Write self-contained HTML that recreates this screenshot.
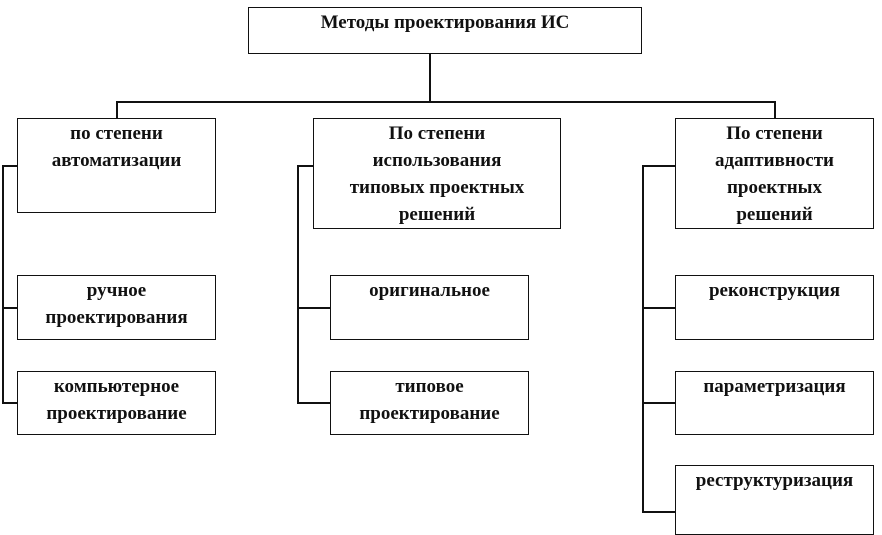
<!DOCTYPE html>
<html><head><meta charset="utf-8"><style>
body{margin:0;width:882px;height:529px;background:#fff;position:relative;overflow:hidden;font-family:"Liberation Serif",serif;font-weight:bold;font-size:19px;color:#111}
.b{position:absolute;border:1.5px solid #111;box-sizing:border-box;text-align:center;line-height:27px;padding-top:1px}
.l{position:absolute;background:#111}
</style></head><body>
<div class="b" style="left:248px;top:7px;width:394px;height:47px;line-height:28px">Методы проектирования ИС</div>
<div class="l" style="left:429px;top:53px;width:1.5px;height:50px"></div>
<div class="l" style="left:116px;top:101px;width:660px;height:1.5px"></div>
<div class="l" style="left:116px;top:101px;width:1.5px;height:18px"></div>
<div class="l" style="left:774px;top:101px;width:1.5px;height:18px"></div>

<div class="b" style="left:17px;top:118px;width:199px;height:95px">по степени<br>автоматизации</div>
<div class="b" style="left:313px;top:118px;width:248px;height:111px">По степени<br>использования<br>типовых проектных<br>решений</div>
<div class="b" style="left:675px;top:118px;width:199px;height:111px">По степени<br>адаптивности<br>проектных<br>решений</div>

<div class="l" style="left:2px;top:165px;width:15px;height:1.5px"></div>
<div class="l" style="left:2px;top:165px;width:1.5px;height:238px"></div>
<div class="l" style="left:2px;top:307px;width:15px;height:1.5px"></div>
<div class="l" style="left:2px;top:402px;width:15px;height:1.5px"></div>

<div class="l" style="left:297px;top:165px;width:16px;height:1.5px"></div>
<div class="l" style="left:297px;top:165px;width:1.5px;height:238px"></div>
<div class="l" style="left:297px;top:307px;width:33px;height:1.5px"></div>
<div class="l" style="left:297px;top:402px;width:33px;height:1.5px"></div>

<div class="l" style="left:642px;top:165px;width:33px;height:1.5px"></div>
<div class="l" style="left:642px;top:165px;width:1.5px;height:347px"></div>
<div class="l" style="left:642px;top:307px;width:33px;height:1.5px"></div>
<div class="l" style="left:642px;top:402px;width:33px;height:1.5px"></div>
<div class="l" style="left:642px;top:511px;width:33px;height:1.5px"></div>

<div class="b" style="left:17px;top:275px;width:199px;height:65px">ручное<br>проектирования</div>
<div class="b" style="left:17px;top:371px;width:199px;height:64px">компьютерное<br>проектирование</div>
<div class="b" style="left:330px;top:275px;width:199px;height:65px">оригинальное</div>
<div class="b" style="left:330px;top:371px;width:199px;height:64px">типовое<br>проектирование</div>
<div class="b" style="left:675px;top:275px;width:199px;height:65px">реконструкция</div>
<div class="b" style="left:675px;top:371px;width:199px;height:64px">параметризация</div>
<div class="b" style="left:675px;top:465px;width:199px;height:70px">реструктуризация</div>
</body></html>
